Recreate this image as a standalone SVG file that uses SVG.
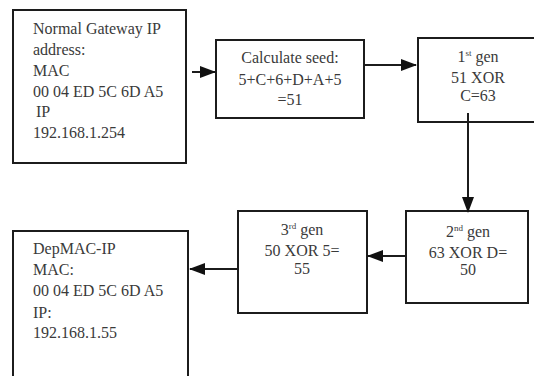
<svg xmlns="http://www.w3.org/2000/svg" width="534" height="376" viewBox="0 0 534 376">
  <style>
    .box { fill: #ffffff; stroke: #1c1c1c; stroke-width: 2; }
    .lbl { font-family: 'Liberation Serif', 'DejaVu Serif', 'Times New Roman', serif; font-size: 16px; fill: #3a3a3a; }
    .mid { text-anchor: middle; }
    .sup { font-size: 9px; }
    .wire { fill: none; stroke: #1c1c1c; stroke-width: 2; }
  </style>
  <defs>
    <marker id="head" markerUnits="userSpaceOnUse" markerWidth="16" markerHeight="12" refX="15" refY="6" orient="auto">
      <path d="M0,0 L16,6 L0,12 Z" fill="#111111"/>
    </marker>
  </defs>
  <rect width="534" height="376" fill="#ffffff"/>

  <g id="gateway" font-family="Liberation Serif, DejaVu Serif, serif">
    <rect class="box" x="13" y="10" width="173" height="153"/>
    <text class="lbl" x="33" y="34">Normal Gateway IP</text>
    <text class="lbl" x="33" y="55">address:</text>
    <text class="lbl" x="33" y="76">MAC</text>
    <text class="lbl" x="33" y="97">00 04 ED 5C 6D A5</text>
    <text class="lbl" x="36" y="117">IP</text>
    <text class="lbl" x="33" y="138">192.168.1.254</text>
  </g>

  <g id="seed">
    <rect class="box" x="216" y="40" width="148" height="78"/>
    <text class="lbl mid" x="290" y="63">Calculate seed:</text>
    <text class="lbl mid" x="290" y="85">5+C+6+D+A+5</text>
    <text class="lbl mid" x="290" y="105">=51</text>
  </g>

  <g id="gen1">
    <rect class="box" x="418" y="38" width="122" height="84"/>
    <text class="lbl mid" x="478" y="62">1<tspan class="sup" dy="-6">st</tspan><tspan dy="6"> gen</tspan></text>
    <text class="lbl mid" x="478" y="83">51 XOR</text>
    <text class="lbl mid" x="478" y="101">C=63</text>
  </g>

  <g id="gen2">
    <rect class="box" x="406" y="211" width="122" height="92"/>
    <text class="lbl mid" x="468" y="237">2<tspan class="sup" dy="-6">nd</tspan><tspan dy="6"> gen</tspan></text>
    <text class="lbl mid" x="468" y="258">63 XOR D=</text>
    <text class="lbl mid" x="468" y="275">50</text>
  </g>

  <g id="gen3">
    <rect class="box" x="238" y="211" width="129" height="102"/>
    <text class="lbl mid" x="302" y="235">3<tspan class="sup" dy="-6">rd</tspan><tspan dy="6"> gen</tspan></text>
    <text class="lbl mid" x="302" y="256">50 XOR 5=</text>
    <text class="lbl mid" x="302" y="274">55</text>
  </g>

  <g id="depmac">
    <rect class="box" x="13" y="231" width="175" height="150"/>
    <text class="lbl" x="33" y="254">DepMAC-IP</text>
    <text class="lbl" x="33" y="275">MAC:</text>
    <text class="lbl" x="33" y="296">00 04 ED 5C 6D A5</text>
    <text class="lbl" x="33" y="318">IP:</text>
    <text class="lbl" x="33" y="338">192.168.1.55</text>
  </g>

  <g id="connectors">
    <line class="wire" x1="192" y1="72" x2="215" y2="72" marker-end="url(#head)"/>
    <line class="wire" x1="364" y1="65" x2="416" y2="65" marker-end="url(#head)"/>
    <line class="wire" x1="468" y1="113" x2="468" y2="212" marker-end="url(#head)"/>
    <line class="wire" x1="406" y1="256" x2="368" y2="256" marker-end="url(#head)"/>
    <line class="wire" x1="238" y1="269" x2="190" y2="269" marker-end="url(#head)"/>
  </g>
</svg>
